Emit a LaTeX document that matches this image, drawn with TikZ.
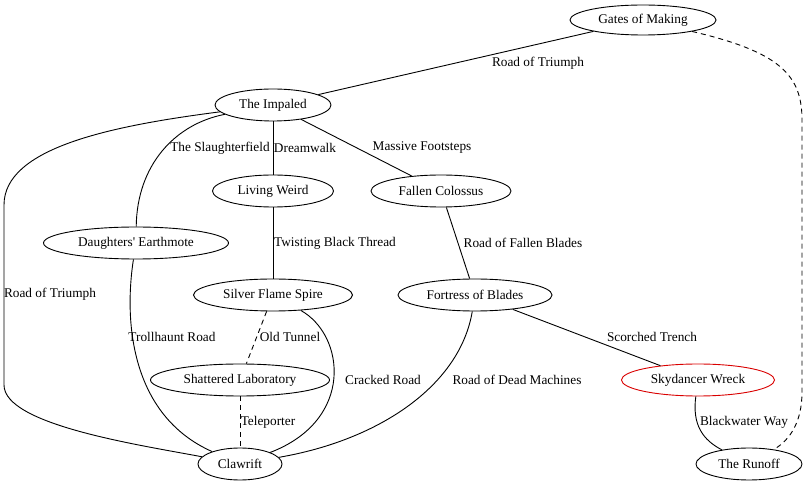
\documentclass[tikz,border=0pt]{standalone}
\usepackage{fontspec}
\setmainfont{Liberation Serif}
\newfontfamily\mapfont{Liberation Serif}
\usetikzlibrary{shapes.geometric}

\begin{document}
\begin{tikzpicture}[x=1pt,y=-1pt,line width=0.9pt,
                   place/.style={draw,ellipse,inner sep=0pt,minimum height=32,font=\mapfont\fontsize{13.3}{15}\selectfont},
                   lbl/.style={inner sep=0pt,font=\mapfont\fontsize{13.3}{15}\selectfont},
                   tunnel/.style={dashed,dash pattern=on 5pt off 4pt}]
\useasboundingbox (0,0) rectangle (807,486);
\node[place,minimum width=146,minimum height=30] (gates) at (643,20) {Gates of Making};
\node[place,minimum width=116] (impaled) at (273,105) {The Impaled};
\node[place,minimum width=121] (weird) at (273,191) {Living Weird};
\node[place,minimum width=140] (colossus) at (441,191) {Fallen Colossus};
\node[place,minimum width=185] (earthmote) at (136,243) {Daughters' Earthmote};
\node[place,minimum width=159] (spire) at (273,295) {Silver Flame Spire};
\node[place,minimum width=154] (fortress) at (475,295) {Fortress of Blades};
\node[place,minimum width=179] (lab) at (240,380) {Shattered Laboratory};
\node[place,minimum width=153,draw=red!85!black] (wreck) at (698,380) {Skydancer Wreck};
\node[place,minimum width=84] (clawrift) at (240,464) {Clawrift};
\node[place,minimum width=106] (runoff) at (749,464) {The Runoff};

\draw (impaled) -- (gates);
\draw (impaled) .. controls (110,126) and (4,148) .. (4,205) -- (4,385) .. controls (4,425) and (140,445) .. (clawrift);
\draw (impaled) .. controls (175,124) and (137,165) .. (earthmote);
\draw (impaled) -- (weird);
\draw (impaled) -- (colossus);
\draw (weird) -- (spire);
\draw (colossus) -- (fortress);
\draw (earthmote) .. controls (124,320) and (130,415) .. (clawrift);
\draw[tunnel] (spire) -- (lab);
\draw (spire) .. controls (345,335) and (355,420) .. (clawrift);
\draw[tunnel] (lab) -- (clawrift);
\draw (fortress) .. controls (460,385) and (380,440) .. (clawrift);
\draw (fortress) -- (wreck);
\draw (wreck) .. controls (692,425) and (703,440) .. (runoff);
\draw[tunnel] (gates) .. controls (780,52) and (802,75) .. (802,120) -- (802,392) .. controls (802,422) and (790,440) .. (runoff);

\node[lbl] (l1) at (538,63) {Road of Triumph};
\node[lbl] (l2) at (50,294) {Road of Triumph};
\node[lbl] (l3) at (220,148) {The Slaughterfield};
\node[lbl] (l4) at (305,148) {Dreamwalk};
\node[lbl] (l5) at (422,148) {Massive Footsteps};
\node[lbl] (l6) at (335,243) {Twisting Black Thread};
\node[lbl] (l7) at (523,243) {Road of Fallen Blades};
\node[lbl] (l8) at (172,337) {Trollhaunt Road};
\node[lbl] (l9) at (290,337) {Old Tunnel};
\node[lbl] (l10) at (383,380) {Cracked Road};
\node[lbl] (l11) at (268,422) {Teleporter};
\node[lbl] (l12) at (517,380) {Road of Dead Machines};
\node[lbl] (l13) at (652,337) {Scorched Trench};
\node[lbl] (l14) at (744,422) {Blackwater Way};
\end{tikzpicture}
\end{document}
